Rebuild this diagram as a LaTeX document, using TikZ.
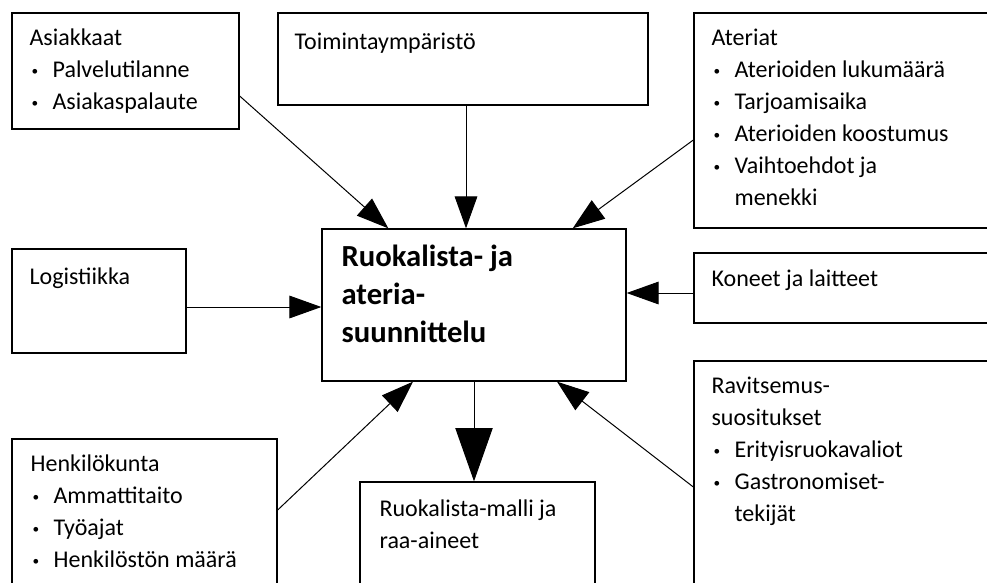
\documentclass[tikz,border=0pt]{standalone}
\usepackage{fontspec}
\setmainfont{Carlito}
\usepackage{tikz}
\usetikzlibrary{positioning,calc,arrows.meta}

\newcommand{\bul}{\hspace*{1.5pt}\makebox[15.75pt][l]{\raisebox{2pt}{\fontsize{10}{10}\selectfont\textbullet}}}
\newcommand{\cont}{\hspace*{17.25pt}}

\tikzset{
  panelBox/.style={draw, line width=1pt, rectangle, inner sep=0pt},
  panelText/.style={inner sep=0pt, align=left, font=\fontsize{18}{24}\selectfont},
  feedArrow/.style={line width=0.75pt, -{Triangle[length=24pt, width=17pt]}},
  outArrow/.style={line width=0.75pt, -{Triangle[length=40pt, width=28pt]}}
}

\begin{document}
\begin{tikzpicture}[x=0.75pt, y=-0.75pt]
\useasboundingbox (0,0) rectangle (987,582);
\clip (0,0) rectangle (987,582);
\fill[white] (0,0) rectangle (987,582);

% boxes
\node[panelBox, minimum width=170.25pt, minimum height=87pt] (asiakkaat) at (125.5,71) {};
\node[panelBox, minimum width=277.5pt, minimum height=69pt] (toiminta) at (463,59) {};
\node[panelBox, minimum width=229.5pt, minimum height=161.25pt] (ateriat) at (847,120.5) {};
\node[panelBox, minimum width=228pt, minimum height=114pt] (main) at (474,305) {};
\node[panelBox, minimum width=130.5pt, minimum height=78pt] (logistiikka) at (99,301) {};
\node[panelBox, minimum width=229.5pt, minimum height=52.5pt] (koneet) at (847,288) {};
\node[panelBox, minimum width=198.75pt, minimum height=120.75pt] (henkilo) at (144.5,519.5) {};
\node[panelBox, minimum width=176.25pt, minimum height=88.5pt] (malli) at (477.5,541) {};
\node[panelBox, minimum width=229.5pt, minimum height=179.25pt] (ravitsemus) at (847,480.5) {};

% texts
\node[panelText, below right=8pt and 13.5pt of asiakkaat.north west] (asiakkaatText)
  {\strut Asiakkaat\\ \bul Palvelutilanne\\ \bul Asiakaspalaute};
\node[panelText, below right=11pt and 12.75pt of toiminta.north west] (toimintaText)
  {\strut Toimintaympäristö};
\node[panelText, below right=8pt and 13.5pt of ateriat.north west] (ateriatText)
  {\strut Ateriat\\ \bul Aterioiden lukumäärä\\ \bul Tarjoamisaika\\ \bul Aterioiden koostumus\\
   \bul Vaihtoehdot ja\\ \cont menekki};
\node[panelText, font=\bfseries\fontsize{23}{28.5}\selectfont, below right=8.5pt and 15pt of main.north west] (mainText)
  {\strut Ruokalista- ja\\ ateria-\\ suunnittelu};
\node[panelText, below right=10.2pt and 13.5pt of logistiikka.north west] (logistiikkaText)
  {\strut Logistiikka};
\node[panelText, below right=8.7pt and 13.5pt of koneet.north west] (koneetText)
  {\strut Koneet ja laitteet};
\node[panelText, below right=8pt and 14.25pt of henkilo.north west] (henkiloText)
  {\strut Henkilökunta\\ \bul Ammattitaito\\ \bul Työajat\\ \bul Henkilöstön määrä};
\node[panelText, below right=9.5pt and 15pt of malli.north west] (malliText)
  {\strut Ruokalista-malli ja\\ raa-aineet};
\node[panelText, below right=8pt and 13.5pt of ravitsemus.north west] (ravitsemusText)
  {\strut Ravitsemus-\\ suositukset\\ \bul Erityisruokavaliot\\ \bul Gastronomiset-\\ \cont tekijät};

% arrows into the planning box
\draw[feedArrow] ($(asiakkaat.east)+(0,25)$) -- ($(main.north west)+(67,0)$);
\draw[feedArrow] ($(toiminta.south)+(3,0)$) -- ($(main.north)+(-8,0)$);
\draw[feedArrow] ($(ateriat.west)+(0,19.5)$) -- ($(main.north east)+(-54,0)$);
\draw[feedArrow] ($(koneet.west)+(0,5)$) -- ($(main.east)+(0,-12)$);
\draw[feedArrow] ($(logistiikka.east)+(0,6)$) -- ($(main.west)+(0,2)$);
\draw[feedArrow] ($(henkilo.east)+(0,-9.5)$) -- ($(main.south)+(-61,0)$);
\draw[feedArrow] ($(ravitsemus.west)+(0,6.5)$) -- ($(main.south)+(83,0)$);
\draw[outArrow] (main.south) -- ($(malli.north)+(-3.5,0)$);
\end{tikzpicture}
\end{document}
